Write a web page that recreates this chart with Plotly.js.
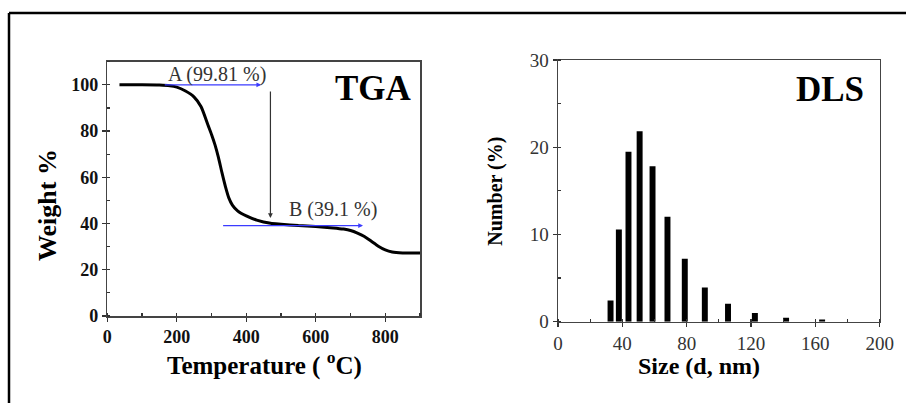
<!DOCTYPE html>
<html>
<head>
<meta charset="utf-8">
<script src="https://cdn.plot.ly/plotly-3.0.1.min.js"></script>
<style>html,body{margin:0;padding:0;background:#fff;}#chart{width:906px;height:403px;}</style>
</head>
<body>
<div id="chart"></div>
<script>
// TGA data
const tgaTemp = [35, 100, 150, 180, 200, 225, 250, 270, 290, 300, 310, 320, 330, 340, 350, 360, 375, 400, 430, 470, 500, 550, 600, 650, 680, 700, 720, 740, 760, 780, 800, 820, 850, 900];
const tgaWeight = [100, 100, 99.9, 99.6, 99.0, 97.3, 94.7, 90.5, 82.5, 78.5, 74, 68.5, 62, 56, 51, 48, 45.5, 43.3, 41.5, 40.1, 39.7, 39.1, 38.7, 38.1, 37.6, 37.0, 35.9, 34.4, 32.3, 30.2, 28.6, 27.7, 27.3, 27.2];
// DLS data
const dlsSize = [32.67, 37.84, 43.82, 50.75, 58.77, 68.06, 78.82, 91.28, 105.7, 122.4, 141.8, 164.2];
const dlsNumber = [2.44, 10.57, 19.47, 21.84, 17.83, 12.02, 7.21, 3.93, 2.06, 0.99, 0.45, 0.26];
// Tick labels
const tgaXTicks = [0, 200, 400, 600, 800];
const tgaYTicks = [0, 20, 40, 60, 80, 100];
const dlsXTicks = [0, 40, 80, 120, 160, 200];
const dlsYTicks = [0, 10, 20, 30];
// Annotation values
const stepA = {label: 'A (99.81 %)', value: 100, from: 161, to: 443};
const stepB = {label: 'B (39.1 %)', value: 39.1, from: 329, to: 736};
const dropX = 469.5, dropTop = 97.8, dropBottom = 42.4;

const W = 906, H = 403;
const serif = 'Liberation Serif, Times New Roman, serif';

const traces = [
  {x: tgaTemp, y: tgaWeight, type: 'scatter', mode: 'lines', line: {color: '#000', width: 3, shape: 'spline', smoothing: 0.6}, xaxis: 'x', yaxis: 'y', hoverinfo: 'skip'},
  {x: dlsSize, y: dlsNumber, type: 'bar', width: 3.7, marker: {color: '#000', line: {width: 0}}, xaxis: 'x2', yaxis: 'y2', hoverinfo: 'skip'}
];

function axisBase(extra) {
  return Object.assign({
    showgrid: false, zeroline: false, showline: true, mirror: true,
    linecolor: '#444', linewidth: 1.5, ticks: 'outside', ticklen: 4, tickwidth: 1.2, tickcolor: '#333',
    fixedrange: true
  }, extra);
}

function paperText(px, py, text, size, angle, color, bold) {
  return {xref: 'paper', yref: 'paper', x: px / W, y: 1 - py / H, xanchor: 'center', yanchor: 'middle',
    text: text, textangle: angle, showarrow: false,
    font: {family: serif, size: size, color: color, weight: bold ? 'bold' : 'normal'}};
}

const layout = {
  width: W, height: H,
  margin: {l: 0, r: 0, t: 0, b: 0, pad: 0},
  paper_bgcolor: '#fff', plot_bgcolor: '#fff',
  showlegend: false,
  xaxis: axisBase({domain: [107.3 / W, 420 / W], range: [0, 900], tickvals: tgaXTicks,
    minor: {dtick: 100, tick0: 0, ticks: 'inside', ticklen: 3, tickcolor: '#333'},
    tickfont: {family: serif, size: 18, color: '#111', weight: 'bold'}, anchor: 'y'}),
  yaxis: axisBase({domain: [1 - 316 / H, 1 - 61.7 / H], range: [0, 110], tickvals: tgaYTicks,
    minor: {dtick: 10, tick0: 0, ticks: 'inside', ticklen: 3, tickcolor: '#333'},
    tickfont: {family: serif, size: 18, color: '#111', weight: 'bold'}, anchor: 'x'}),
  xaxis2: axisBase({domain: [558 / W, 879.7 / W], range: [0, 200], tickvals: dlsXTicks,
    minor: {dtick: 20, tick0: 0, ticks: 'inside', ticklen: 3, tickcolor: '#333'},
    tickfont: {family: serif, size: 19, color: '#333'}, anchor: 'y2'}),
  yaxis2: axisBase({domain: [1 - 321.7 / H, 1 - 60 / H], range: [0, 30], tickvals: dlsYTicks,
    minor: {dtick: 5, tick0: 0, ticks: 'inside', ticklen: 3, tickcolor: '#333'},
    tickfont: {family: serif, size: 19, color: '#333'}, anchor: 'x2'}),
  shapes: [
    {type: 'line', xref: 'paper', yref: 'paper', x0: 9 / W, x1: 1, y0: 1 - 13 / H, y1: 1 - 13 / H, line: {color: '#000', width: 2.5}},
    {type: 'line', xref: 'paper', yref: 'paper', x0: 9 / W, x1: 9 / W, y0: 0, y1: 1 - 13 / H, line: {color: '#000', width: 2.5}}
  ],
  annotations: [
    {xref: 'x', yref: 'y', x: stepA.to, y: stepA.value, ax: stepA.from, ay: stepA.value, axref: 'x', ayref: 'y', text: '', showarrow: true, arrowhead: 2, arrowsize: 0.8, arrowwidth: 1.2, arrowcolor: '#3b3bff'},
    {xref: 'x', yref: 'y', x: stepB.to, y: stepB.value, ax: stepB.from, ay: stepB.value, axref: 'x', ayref: 'y', text: '', showarrow: true, arrowhead: 2, arrowsize: 0.8, arrowwidth: 1.2, arrowcolor: '#3b3bff'},
    {xref: 'x', yref: 'y', x: dropX, y: dropBottom, ax: dropX, ay: dropTop, axref: 'x', ayref: 'y', text: '', showarrow: true, arrowhead: 2, arrowsize: 0.8, arrowwidth: 1.2, arrowcolor: '#333'},
    {xref: 'x', yref: 'y', x: 316, y: 104.6, text: stepA.label, showarrow: false, font: {family: serif, size: 20, color: '#333'}},
    {xref: 'x', yref: 'y', x: 650, y: 46, text: stepB.label, showarrow: false, font: {family: serif, size: 20, color: '#333'}},
    {xref: 'x', yref: 'y', x: 766, y: 98.5, text: 'TGA', showarrow: false, font: {family: serif, size: 35, color: '#000', weight: 'bold'}},
    {xref: 'x2', yref: 'y2', x: 169, y: 26.6, text: 'DLS', showarrow: false, font: {family: serif, size: 35, color: '#000', weight: 'bold'}},
    paperText(47, 205, 'Weight %', 26, -90, '#000', true),
    paperText(264.5, 363, 'Temperature ( <sup>o</sup>C)', 25, 0, '#000', true),
    paperText(496, 191.7, 'Number (%)', 20, -90, '#000', true),
    paperText(699, 366, 'Size (d, nm)', 24, 0, '#000', true)
  ]
};

Plotly.newPlot('chart', traces, layout, {staticPlot: true, displayModeBar: false});
</script>
</body>
</html>
